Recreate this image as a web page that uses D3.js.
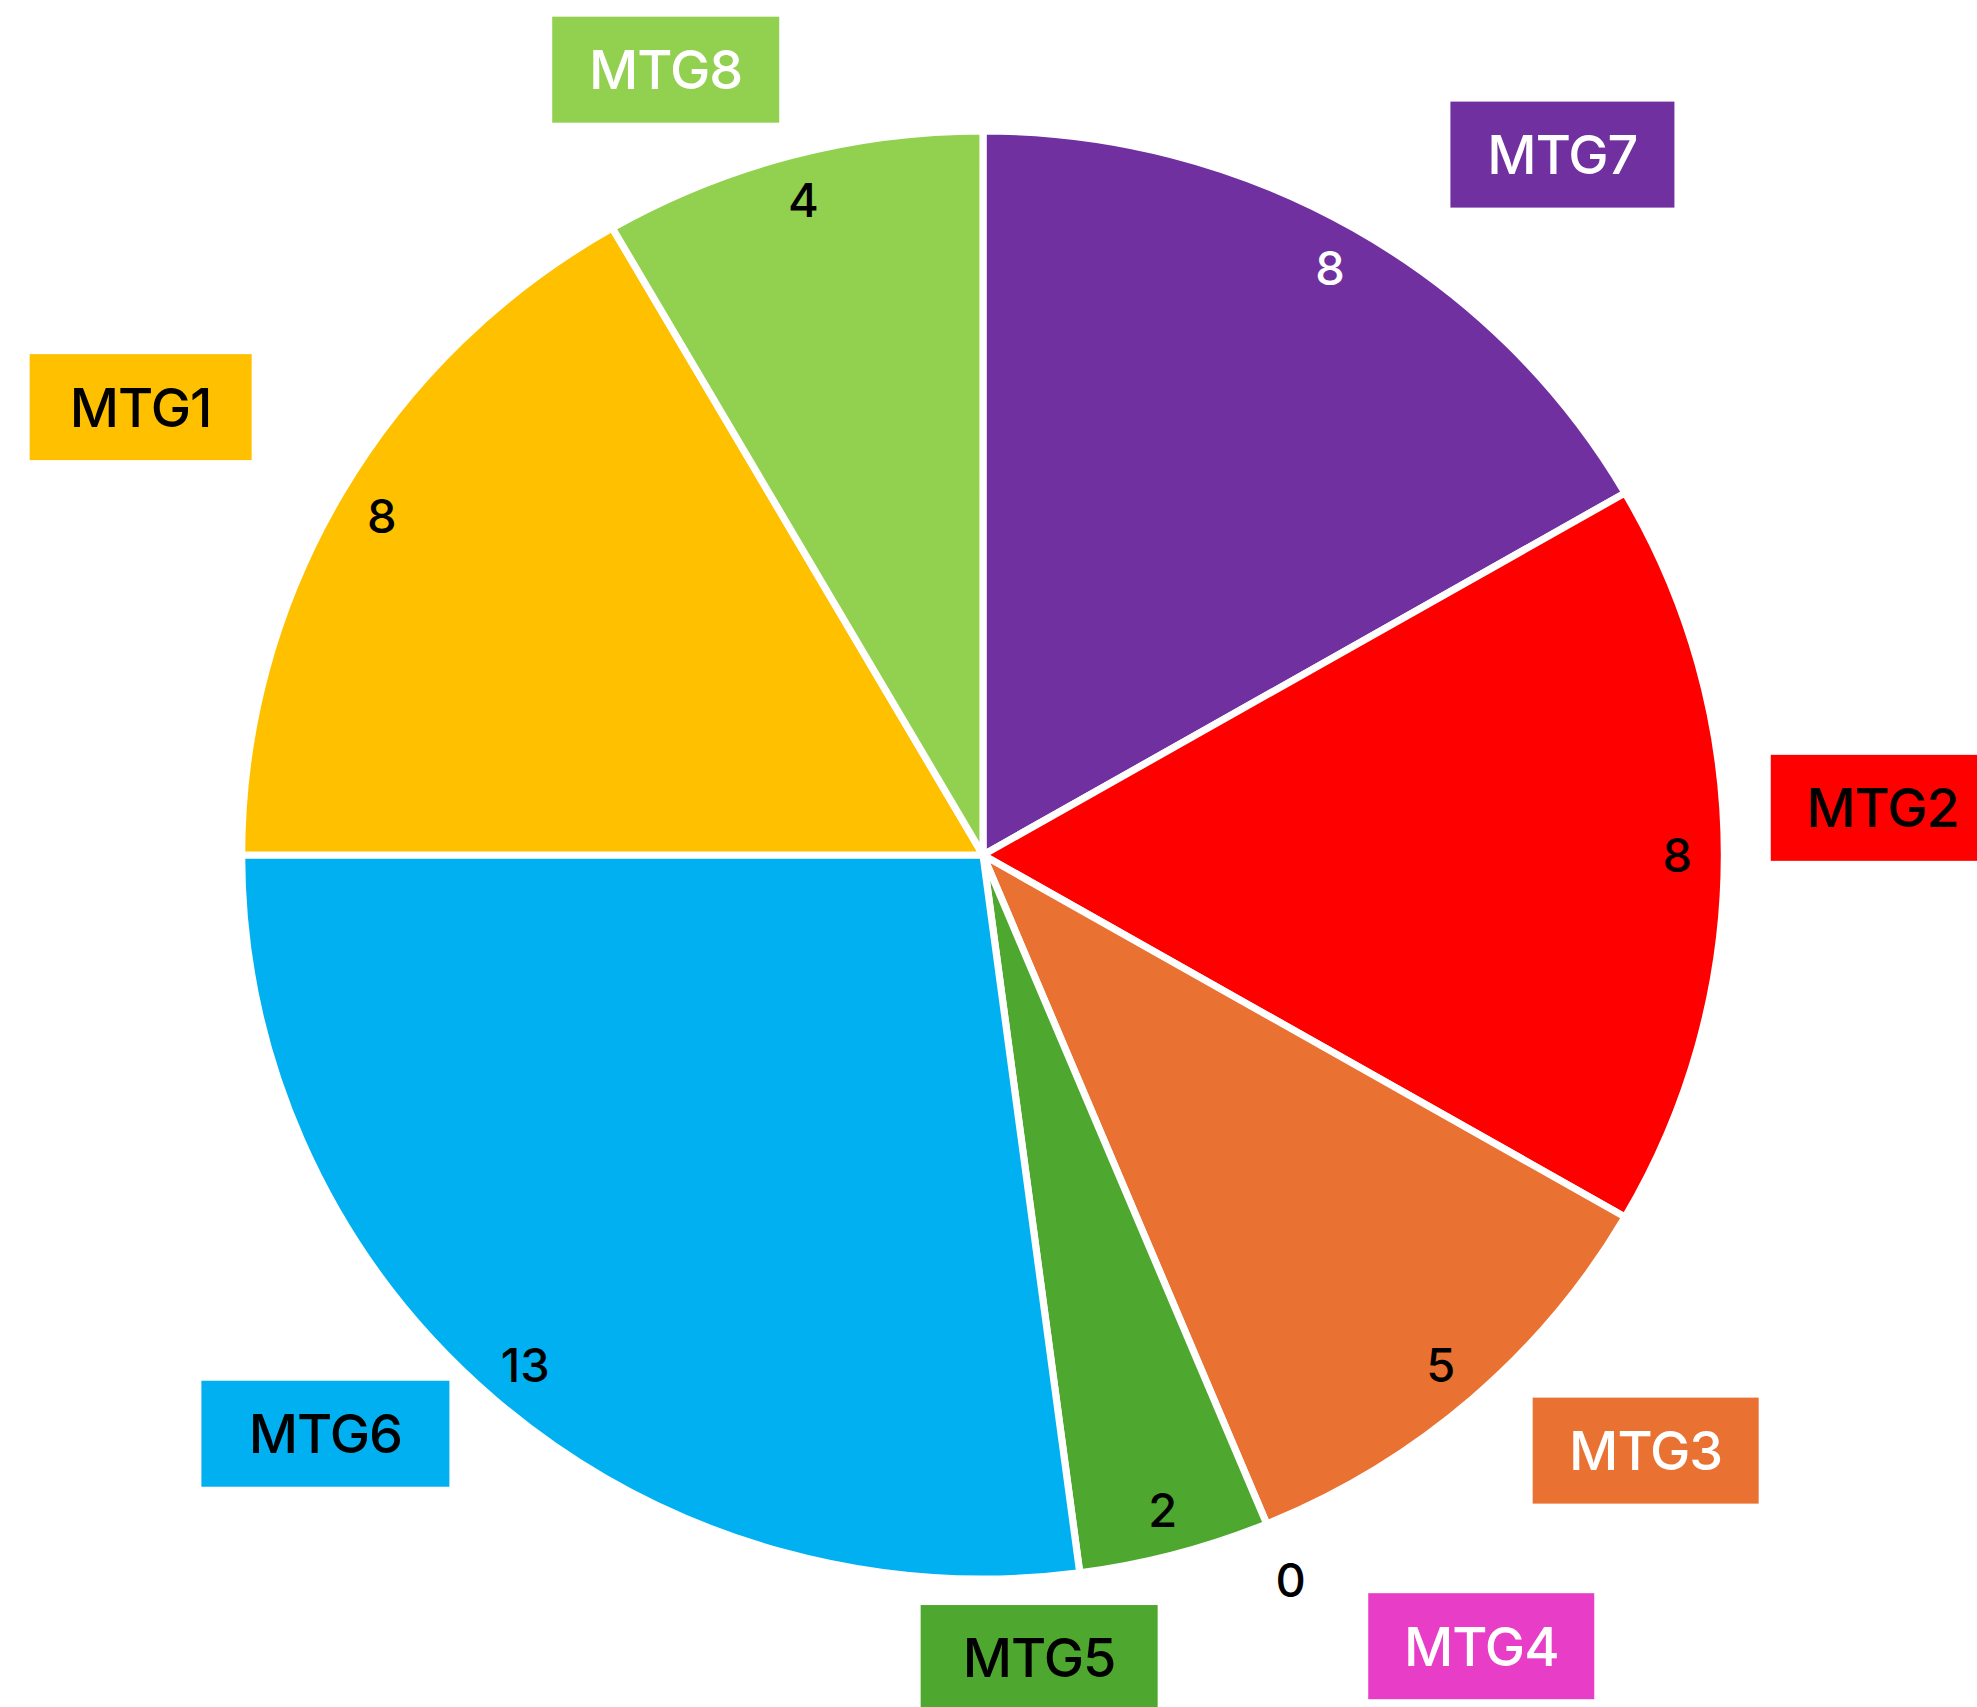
<!DOCTYPE html>
<html lang="en">
<head>
    <meta charset="utf-8">
    <title>MTG Pie</title>
    <style>
        body { margin: 0; background: #fff; }
        svg { display: block; }
        .slice { stroke: #fff; stroke-width: 7px; stroke-linejoin: round; }
        .value, .cat text { font-family: Inter, "Open Sans", sans-serif; font-weight: 500; }
    </style>
</head>
<body>

<script src="https://cdn.jsdelivr.net/npm/d3@7/dist/d3.min.js"></script>

<script>

    // slices in drawing order, clockwise from 12 o'clock
    var categories = ["MTG7", "MTG2", "MTG3", "MTG4", "MTG5", "MTG6", "MTG1", "MTG8"];
    var values = [8, 8, 5, 0, 2, 13, 8, 4];
    var colors = ["#7030A0", "#FF0000", "#E97132", "#E83DC6", "#4EA72E", "#00B0F0", "#FFC000", "#92D050"];
    var catTextColors = ["#fff", "#000", "#fff", "#fff", "#000", "#000", "#000", "#fff"];
    var valueTextColors = ["#fff", "#000", "#000", "#000", "#000", "#000", "#000", "#000"];

    // where the category tags sit: angle shift (deg) from slice middle, distance from centre, box width
    var tagLayout = {
        MTG7: {da: 9.6, r: 909, w: 224},
        MTG2: {da: -3, r: 901, w: 224},
        MTG3: {da: -6.8, r: 891, w: 226},
        MTG4: {da: -9.7, r: 935, w: 226},
        MTG5: {da: 11, r: 805, w: 237},
        MTG6: {da: 7.4, r: 876, w: 248},
        MTG1: {da: -2, r: 954, w: 222},
        MTG8: {da: -7, r: 847, w: 227}
    };

    var width = 1977,
        height = 1707,
        cx = 983,
        cy = 855,
        radius = 724,
        sx = 1.024;   // the original is a bit wider than tall

    var data = categories.map(function(c, i) {
        return {name: c, value: values[i], color: colors[i], tc: catTextColors[i], vc: valueTextColors[i]};
    });

    var svg = d3.select("body").append("svg")
        .attr("width", width)
        .attr("height", height);

    var pie = d3.pie()
        .sort(null)
        .value(function(d) { return d.value; });

    var arcs = pie(data);

    var arc = d3.arc()
        .innerRadius(0)
        .outerRadius(radius);

    var pieG = svg.append("g")
        .attr("transform", "translate(" + cx + "," + cy + ") scale(" + sx + ",1)");

    pieG.selectAll("path.slice")
        .data(arcs.filter(function(d) { return d.data.value > 0; }))
        .enter().append("path")
        .attr("class", "slice")
        .attr("d", arc)
        .style("fill", function(d) { return d.data.color; });

    function polar(a, r, kx) {
        return [cx + kx * r * Math.sin(a), cy - r * Math.cos(a)];
    }

    // value labels near the rim, zero ones pushed outside
    svg.selectAll("text.value")
        .data(arcs)
        .enter().append("text")
        .attr("class", "value")
        .attr("transform", function(d) {
            var p = polar((d.startAngle + d.endAngle) / 2, d.data.value > 0 ? 678 : 785, sx);
            return "translate(" + p[0] + "," + p[1] + ")";
        })
        .attr("text-anchor", "middle")
        .attr("dy", "0.36em")
        .style("font-size", "47px")
        .style("fill", function(d) { return d.data.vc; })
        .text(function(d) { return d.data.value; });

    // category tags
    var boxH = 106;

    var tag = svg.selectAll("g.cat")
        .data(arcs)
        .enter().append("g")
        .attr("class", "cat")
        .attr("transform", function(d) {
            var L = tagLayout[d.data.name];
            var a = (d.startAngle + d.endAngle) / 2 + L.da * Math.PI / 180;
            var p = polar(a, L.r, 1);
            return "translate(" + p[0] + "," + p[1] + ")";
        });

    tag.append("rect")
        .attr("x", function(d) { return -tagLayout[d.data.name].w / 2; })
        .attr("y", -boxH / 2)
        .attr("width", function(d) { return tagLayout[d.data.name].w; })
        .attr("height", boxH)
        .style("fill", function(d) { return d.data.color; });

    tag.append("text")
        .attr("text-anchor", "middle")
        .attr("dy", "0.36em")
        .style("font-size", "54px")
        .style("letter-spacing", "-1px")
        .style("fill", function(d) { return d.data.tc; })
        .text(function(d) { return d.data.name; });

</script>

</body>
</html>
